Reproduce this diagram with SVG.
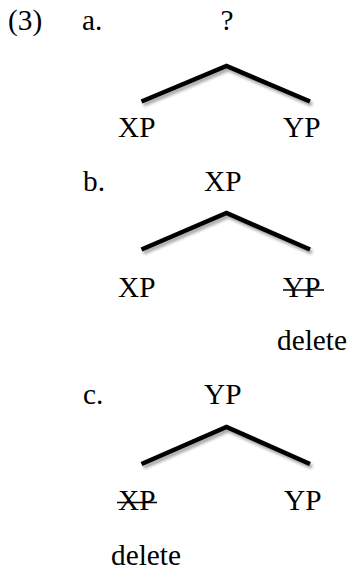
<svg xmlns="http://www.w3.org/2000/svg" width="355" height="570" viewBox="0 0 355 570">
  <defs>
    <filter id="soft-shadow" x="-10%" y="-30%" width="120%" height="170%">
      <feGaussianBlur in="SourceAlpha" stdDeviation="1.6"/>
      <feOffset dx="1.5" dy="3" result="blur"/>
      <feComponentTransfer><feFuncA type="linear" slope="0.35"/></feComponentTransfer>
      <feMerge><feMergeNode/><feMergeNode in="SourceGraphic"/></feMerge>
    </filter>
  </defs>
  <style>
    text { font-family: "Liberation Serif", "Times New Roman", serif; font-size: 29.3px; fill: #000; }
    .branch { fill: none; stroke: #000; stroke-width: 4.6; stroke-linejoin: miter; filter: url(#soft-shadow); }
    .strike { stroke: #000; stroke-width: 1.5; }
  </style>

  <!-- example number and sub-labels -->
  <g id="labels">
    <text x="8" y="30">(3)</text>
    <text x="82" y="30">a.</text>
    <text x="83" y="191">b.</text>
    <text x="83" y="404">c.</text>
  </g>

  <!-- tree branches -->
  <g id="connectors">
    <polyline class="branch" points="141.5,101.5 226.5,66 310,101.5"/>
    <polyline class="branch" points="141.5,249.5 226.5,213 310,249.5"/>
    <polyline class="branch" points="141.5,464 226.5,427 310,464"/>
  </g>

  <!-- tree a -->
  <g id="a-root"><text x="227" y="30" text-anchor="middle">?</text></g>
  <g id="a-left"><text x="118" y="137">XP</text></g>
  <g id="a-right"><text x="283" y="137">YP</text></g>

  <!-- tree b -->
  <g id="b-root"><text x="204" y="191">XP</text></g>
  <g id="b-left"><text x="118" y="297">XP</text></g>
  <g id="b-right">
    <text x="283" y="297">YP</text>
    <line class="strike" x1="283" y1="290" x2="324" y2="290"/>
  </g>
  <g id="b-note"><text x="277" y="350">delete</text></g>

  <!-- tree c -->
  <g id="c-root"><text x="204" y="404">YP</text></g>
  <g id="c-left">
    <text x="118" y="510">XP</text>
    <line class="strike" x1="117" y1="502.5" x2="157" y2="502.5"/>
  </g>
  <g id="c-right"><text x="284" y="510">YP</text></g>
  <g id="c-note"><text x="111" y="565">delete</text></g>
</svg>
